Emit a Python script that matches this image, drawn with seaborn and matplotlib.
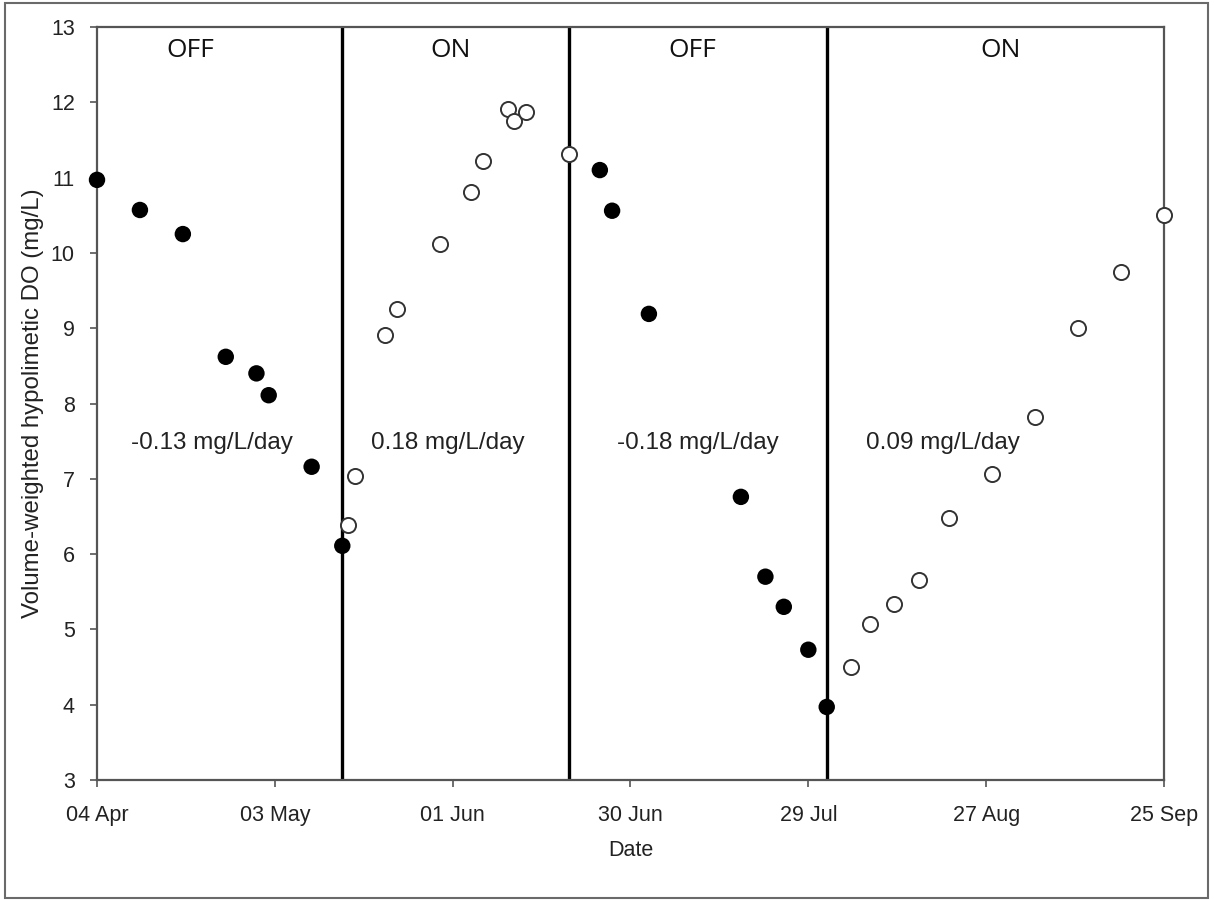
import matplotlib
matplotlib.use("Agg")
import matplotlib.pyplot as plt
import matplotlib.dates as mdates
from matplotlib.patches import Rectangle
import seaborn as sns
import pandas as pd

sns.set_theme(style="white")
plt.rcParams['font.family'] = ['Liberation Sans', 'DejaVu Sans']

YEAR = 2014

# Pump OFF periods (filled circles)
off_dates = ["04-04", "04-11", "04-18", "04-25", "04-30", "05-02", "05-09", "05-14",
             "06-25", "06-27", "07-03", "07-18", "07-22", "07-25", "07-29", "08-01"]
off_do = [10.97, 10.57, 10.25, 8.62, 8.40, 8.11, 7.16, 6.11,
          11.10, 10.56, 9.19, 6.76, 5.70, 5.30, 4.73, 3.97]

# Pump ON periods (open circles)
on_dates = ["05-15", "05-16", "05-21", "05-23", "05-30", "06-04", "06-06", "06-10",
            "06-11", "06-13", "06-20",
            "08-05", "08-08", "08-12", "08-16", "08-21", "08-28", "09-04", "09-11",
            "09-18", "09-25"]
on_do = [6.39, 7.04, 8.91, 9.25, 10.12, 10.81, 11.22, 11.91,
         11.75, 11.87, 11.31,
         4.50, 5.07, 5.34, 5.66, 6.48, 7.06, 7.82, 9.00,
         9.75, 10.50]

# Switch dates (vertical lines)
switch_dates = ["05-14", "06-20", "08-01"]

# Period labels
period_labels = ["OFF", "ON", "OFF", "ON"]
period_label_dates = ["04-19 05:00", "05-31 15:00", "07-10 00:00", "08-29 10:00"]
rate_labels = ["-0.13 mg/L/day", "0.18 mg/L/day", "-0.18 mg/L/day", "0.09 mg/L/day"]
rate_label_dates = ["04-22 16:00", "05-31 04:00", "07-11 00:00", "08-20 00:00"]

tick_dates = ["04-04", "05-03", "06-01", "06-30", "07-29", "08-27", "09-25"]


def to_dt(lst):
    return pd.to_datetime([f"{YEAR}-{d}" for d in lst])


df_off = pd.DataFrame({"Date": to_dt(off_dates), "DO": off_do})
df_on = pd.DataFrame({"Date": to_dt(on_dates), "DO": on_do})

fig = plt.figure(figsize=(12.14, 9.0), dpi=100)
fig.patches.append(Rectangle((5 / 1214, 2 / 900), 1203 / 1214, 895 / 900,
                             transform=fig.transFigure, fill=False,
                             edgecolor="#6a6a6a", linewidth=1.5))
ax = fig.add_axes([97 / 1214, 120 / 900, 1067 / 1214, 753 / 900])

for d in to_dt(switch_dates):
    ax.axvline(d, color="black", linewidth=2.4, zorder=1)

sns.scatterplot(data=df_off, x="Date", y="DO", ax=ax, color="black", s=140,
                edgecolor="none", linewidth=0, clip_on=False, zorder=3, legend=False)
sns.scatterplot(data=df_on, x="Date", y="DO", ax=ax, facecolor="white", s=118,
                edgecolor="#333333", linewidth=1.4, clip_on=False, zorder=3, legend=False)

ax.set_xlim(pd.Timestamp(f"{YEAR}-04-04"), pd.Timestamp(f"{YEAR}-09-25"))
ax.set_ylim(3, 13)
ax.set_yticks(range(3, 14))
ax.set_xticks(to_dt(tick_dates))
ax.xaxis.set_major_formatter(mdates.DateFormatter("%d %b"))

for sp in ax.spines.values():
    sp.set_color("#555555")
    sp.set_linewidth(1.6)

ax.tick_params(axis="both", which="major", direction="out", length=5, width=1.2,
               color="#555555", labelsize=15.5, labelcolor="#222222",
               bottom=True, left=True)
ax.tick_params(axis="x", pad=13)
ax.tick_params(axis="y", pad=11)

ax.set_xlabel("Date", fontsize=15.5, color="#222222", labelpad=10)
ax.set_ylabel("Volume-weighted hypolimetic DO (mg/L)", fontsize=17.3, color="#222222",
              labelpad=5)

for lab, d in zip(period_labels, to_dt(period_label_dates)):
    ax.text(d, 12.69, lab, ha="center", va="center", fontsize=19,
            family=["Open Sans", "DejaVu Sans"], color="#111111")
for lab, d in zip(rate_labels, to_dt(rate_label_dates)):
    ax.text(d, 7.48, lab, ha="center", va="center", fontsize=17.5, color="#222222")

fig.savefig("out.png", dpi=100, facecolor="white")
